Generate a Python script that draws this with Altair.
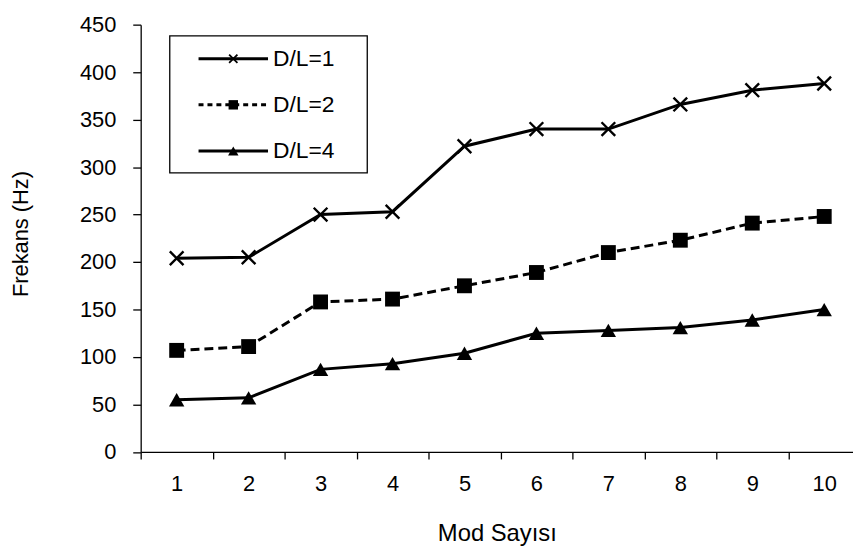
import altair as alt
import pandas as pd

modes = [1, 2, 3, 4, 5, 6, 7, 8, 9, 10]
series_names = ["D/L=1", "D/L=2", "D/L=4"]
dl1 = [204, 205, 250, 253, 322, 340, 340, 366, 381, 388]
dl2 = [107, 111, 158, 161, 175, 189, 210, 223, 241, 248]
dl4 = [55, 57, 87, 93, 104, 125, 128, 131, 139, 150]
y_ticks = [0, 50, 100, 150, 200, 250, 300, 350, 400, 450]

rows = []
for name, vals in zip(series_names, [dl1, dl2, dl4]):
    for m, v in zip(modes, vals):
        rows.append({"mod": m, "freq": v, "seri": name})
df = pd.DataFrame(rows)

FONT = "Liberation Sans"
W = 717.75
H = 430.6
half = 36.25

xs = alt.Scale(domain=[0.5, 10.4], nice=False, zero=False)
ys = alt.Scale(domain=[0, 450], nice=False)

x_axis = alt.Axis(values=modes, format="d", tickOffset=-half, labelOffset=half, tickSize=7,
                  labelPadding=15, title="Mod Sayısı", titleY=89.4, titleFontSize=24,
                  titleBaseline="alphabetic", labelFlush=False, grid=False)
y_axis = alt.Axis(values=y_ticks, format="d", tickSize=8, labelPadding=17, title="Frekans (Hz)",
                  titleX=-114.2, titleY=210.5, titleBaseline="alphabetic", titleFontSize=22,
                  titleAngle=-90, grid=False)

base = alt.Chart(df)

line_styles = {"D/L=1": [1, 0], "D/L=2": [9, 5], "D/L=4": [1, 0]}
cross_path = "M-1,-1L1,1M-1,1L1,-1"

layers = []
for name in series_names:
    dash = line_styles[name]
    lk = dict(color="black", strokeWidth=3)
    if dash != [1, 0]:
        lk["strokeDash"] = dash
    layers.append(
        base.transform_filter(alt.datum.seri == name).mark_line(**lk).encode(
            x=alt.X("mod:Q", scale=xs, axis=x_axis),
            y=alt.Y("freq:Q", scale=ys, axis=y_axis),
        )
    )

marker_specs = {
    "D/L=1": dict(shape=cross_path, filled=False, stroke="black", strokeWidth=2.4, size=190, opacity=1),
    "D/L=2": dict(shape="square", filled=True, color="black", size=225, opacity=1),
    "D/L=4": dict(shape="triangle-up", filled=True, color="black", size=240, opacity=1),
}
for name in series_names:
    layers.append(
        base.transform_filter(alt.datum.seri == name).mark_point(**marker_specs[name]).encode(
            x=alt.X("mod:Q", scale=xs),
            y=alt.Y("freq:Q", scale=ys),
        )
    )

# Legend (drawn manually inside the plot area)
one = pd.DataFrame({"k": [0]})
lg = alt.Chart(one)
box_l, box_t, box_r, box_b = 29.3, 11.3, 228.3, 149.3
layers.append(
    lg.mark_rect(fill="white", stroke="black", strokeWidth=1.3).encode(
        x=alt.value(box_l), x2=alt.value(box_r), y=alt.value(box_t), y2=alt.value(box_b)
    )
)
row_y = [34.3, 80.8, 127.3]
legend_marker = {
    "D/L=1": dict(shape=cross_path, filled=False, stroke="black", strokeWidth=1.8, size=70),
    "D/L=2": dict(shape="square", filled=True, color="black", size=90),
    "D/L=4": dict(shape="triangle-up", filled=True, color="black", size=110),
}
for name, ry in zip(series_names, row_y):
    dash = line_styles[name]
    rk = dict(color="black", strokeWidth=3)
    if dash != [1, 0]:
        rk["strokeDash"] = [5, 4]
    layers.append(
        lg.mark_rule(**rk).encode(x=alt.value(58.3), x2=alt.value(128.3), y=alt.value(ry))
    )
    layers.append(
        lg.mark_point(opacity=1, **legend_marker[name]).encode(x=alt.value(93.3), y=alt.value(ry))
    )
    layers.append(
        lg.mark_text(align="left", baseline="middle", font=FONT, fontSize=23, color="black").encode(
            x=alt.value(133.3), y=alt.value(ry), text=alt.value(name)
        )
    )

chart = alt.layer(*layers).properties(
    width=W, height=H,
    autosize=alt.AutoSizeParams(type="none"),
    padding={"left": 133.7, "top": 14.7, "right": 0, "bottom": 98},
    background="white",
).configure_view(stroke=None).configure_axis(
    labelFont=FONT, titleFont=FONT, labelFontSize=22,
    titleFontWeight="normal", labelColor="black", titleColor="black",
    domainColor="black", tickColor="black", domainWidth=1.3, tickWidth=1.3,
)

chart.save("out.html", embed_options={"renderer": "svg", "actions": False})
